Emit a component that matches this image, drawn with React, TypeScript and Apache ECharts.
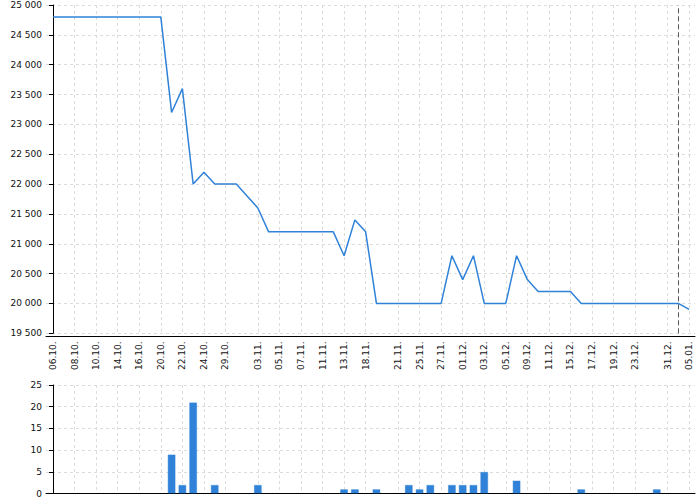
import React, { useEffect, useRef } from "react";
import * as echarts from "echarts";

// One entry per data point (category index 0..59)
const dates = [
  "06.10.", "07.10.", "08.10.", "09.10.", "10.10.", "13.10.", "14.10.", "15.10.", "16.10.", "17.10.",
  "20.10.", "21.10.", "22.10.", "23.10.", "24.10.", "25.10.", "29.10.", "30.10.", "01.11.", "03.11.",
  "04.11.", "05.11.", "06.11.", "07.11.", "08.11.", "11.11.", "12.11.", "13.11.", "14.11.", "18.11.",
  "19.11.", "20.11.", "21.11.", "22.11.", "25.11.", "26.11.", "27.11.", "28.11.", "01.12.", "02.12.",
  "03.12.", "04.12.", "05.12.", "06.12.", "09.12.", "10.12.", "11.12.", "12.12.", "15.12.", "16.12.",
  "17.12.", "18.12.", "19.12.", "20.12.", "23.12.", "27.12.", "29.12.", "31.12.", "02.01.", "05.01.",
];

const shownLabels = [
  "06.10.", "08.10.", "10.10.", "14.10.", "16.10.", "20.10.", "22.10.", "24.10.", "29.10.",
  "03.11.", "05.11.", "07.11.", "11.11.", "13.11.", "18.11.", "21.11.", "25.11.", "27.11.",
  "01.12.", "03.12.", "05.12.", "09.12.", "11.12.", "15.12.", "17.12.", "19.12.", "23.12.",
  "31.12.", "05.01.",
];

const prices = [
  24800, 24800, 24800, 24800, 24800, 24800, 24800, 24800, 24800, 24800,
  24800, 23200, 23600, 22000, 22200, 22000, 22000, 22000, 21800, 21600,
  21200, 21200, 21200, 21200, 21200, 21200, 21200, 20800, 21400, 21200,
  20000, 20000, 20000, 20000, 20000, 20000, 20000, 20800, 20400, 20800,
  20000, 20000, 20000, 20800, 20400, 20200, 20200, 20200, 20200, 20000,
  20000, 20000, 20000, 20000, 20000, 20000, 20000, 20000, 20000, 19900,
];

const counts = [
  0, 0, 0, 0, 0, 0, 0, 0, 0, 0,
  0, 9, 2, 21, 0, 2, 0, 0, 0, 2,
  0, 0, 0, 0, 0, 0, 0, 1, 1, 0,
  1, 0, 0, 2, 1, 2, 0, 2, 2, 2,
  5, 0, 0, 3, 0, 0, 0, 0, 0, 1,
  0, 0, 0, 0, 0, 0, 1, 0, 0, 0,
];

const markerDate = "02.01.";

const priceTicks = { min: 19500, max: 25000, interval: 500 };
const countTicks = { min: 0, max: 25, interval: 5 };

const BLUE = "#2f82d8";
const FONT = "DejaVu Sans";

export default function App() {
  const ref = useRef<HTMLDivElement>(null);

  useEffect(() => {
    if (!ref.current) return;
    const chart = echarts.init(ref.current, null, { renderer: "svg" });
    const tickIdx = shownLabels.map((l) => dates.indexOf(l));
    const xMin = -0.65;
    const xMax = 59.55;
    const grid = { lineStyle: { color: "#dcdcdc", type: [3, 3] as any, width: 1 } };
    const fmtThousands = (v: number) =>
      String(v).replace(/\B(?=(\d{3})+(?!\d))/g, " ");

    chart.setOption({
      animation: false,
      textStyle: { fontFamily: FONT },
      grid: [
        { left: 46, right: 5, top: 5, height: 328.3 },
        { left: 46, right: 5, top: 385, height: 108.5 },
      ],
      xAxis: [
        {
          type: "value",
          gridIndex: 0,
          min: xMin,
          max: xMax,
          offset: 3,
          axisLine: { show: true, lineStyle: { color: "#000", width: 1 } },
          axisTick: { show: false, customValues: tickIdx },
          axisLabel: {
            customValues: tickIdx,
            rotate: 90,
            margin: 5,
            fontSize: 9,
            color: "#111",
            fontFamily: FONT,
            formatter: (v: number) => dates[Math.round(v)] ?? "",
          },
          splitLine: { show: true, ...grid },
        },
        {
          type: "value",
          gridIndex: 1,
          min: xMin,
          max: xMax,
          offset: 1,
          axisLine: { show: true, lineStyle: { color: "#000", width: 1 } },
          axisTick: { show: false, customValues: tickIdx },
          axisLabel: { show: false, customValues: tickIdx },
          splitLine: { show: true, ...grid },
        },
      ],
      yAxis: [
        {
          type: "value",
          gridIndex: 0,
          min: priceTicks.min,
          max: priceTicks.max,
          interval: priceTicks.interval,
          offset: 1,
          axisLine: { show: true, lineStyle: { color: "#000", width: 1 } },
          axisTick: { show: true, length: 4, lineStyle: { color: "#000" } },
          axisLabel: {
            fontSize: 9,
            color: "#111",
            margin: 3,
            fontFamily: FONT,
            formatter: fmtThousands,
          },
          splitLine: { show: true, ...grid },
        },
        {
          type: "value",
          gridIndex: 1,
          min: countTicks.min,
          max: countTicks.max,
          interval: countTicks.interval,
          offset: 1,
          axisLine: { show: true, lineStyle: { color: "#000", width: 1 } },
          axisTick: { show: true, length: 4, lineStyle: { color: "#000" } },
          axisLabel: { fontSize: 9, color: "#111", margin: 3, fontFamily: FONT },
          splitLine: { show: true, ...grid },
        },
      ],
      series: [
        {
          type: "line",
          xAxisIndex: 0,
          yAxisIndex: 0,
          data: prices.map((v, i) => [i, v]),
          showSymbol: false,
          symbol: "none",
          lineStyle: { color: BLUE, width: 1.5 },
          itemStyle: { color: BLUE },
          markLine: {
            silent: true,
            symbol: ["none", "none"],
            label: { show: false },
            lineStyle: { color: "#555", type: [5, 3] as any, width: 1 },
            data: [{ xAxis: dates.indexOf(markerDate) }],
          },
        },
        {
          type: "bar",
          xAxisIndex: 1,
          yAxisIndex: 1,
          data: counts.map((v, i) => [i, v]).filter((d) => d[1] > 0),
          barWidth: 8,
          itemStyle: {
            color: BLUE,
            borderColor: "rgba(47,130,216,0.45)",
            borderWidth: 1,
          },
        },
      ],
    });
    return () => chart.dispose();
  }, []);

  return (
    <div
      ref={ref}
      style={{ position: "absolute", left: 0, top: 0, width: 700, height: 500 }}
    />
  );
}
